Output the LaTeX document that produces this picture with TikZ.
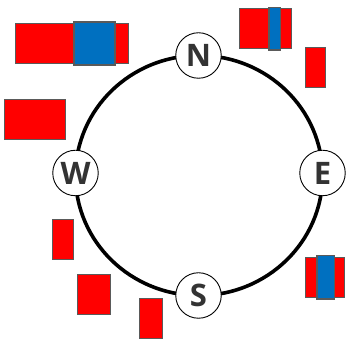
\documentclass[tikz,border=0pt]{standalone}
\usepackage{fontspec}
\setsansfont{Open Sans}
\usepackage{tikz}
\usetikzlibrary{positioning,calc}
\definecolor{barred}{HTML}{FF0000}
\definecolor{barblue}{HTML}{0070C0}
\definecolor{edgegray}{HTML}{5A5A5A}
\definecolor{lettergray}{HTML}{333333}

\begin{document}
\begin{tikzpicture}[x=1pt,y=-1pt,
    point/.style={circle,draw=black,line width=0.9pt,fill=white,minimum size=45.5pt,inner sep=0pt,
        text=lettergray,font=\sffamily\bfseries\fontsize{31}{31}\selectfont},
    redbar/.style={draw=edgegray,line width=1pt,fill=barred},
    bluebar/.style={draw=edgegray,line width=1.2pt,fill=barblue}]
    \useasboundingbox (0,0) rectangle (346,344);
    \coordinate (ctr) at (199,175.5);
    % ring
    \draw[line width=3.6pt] (ctr) ellipse [x radius=123.5, y radius=120];
    % compass points
    \node[point] (N) at (198.5,55.5) {N};
    \node[point] (S) at (198.5,295.5) {S};
    \node[point] (W) at (75.5,173) {W};
    \node[point] (E) at (322.5,173) {E};
    % magnets, top
    \draw[redbar] (15.7,24) rectangle (128.3,63.3);
    \draw[bluebar] (74,22) rectangle (115,65);
    \draw[redbar] (239.3,9) rectangle (291.3,48.3);
    \draw[bluebar] (269,7.3) rectangle (280.3,50);
    \draw[redbar] (305.3,47.7) rectangle (325.7,88);
    % magnets, left and bottom
    \draw[redbar] (4.7,99.3) rectangle (65.7,139.3);
    \draw[redbar] (52.7,219.7) rectangle (73.7,260);
    \draw[redbar] (77.7,275) rectangle (110.7,315);
    \draw[redbar] (139.3,299) rectangle (162,339);
    % magnet, right
    \draw[redbar] (305,257.3) rectangle (344.7,297.3);
    \draw[bluebar] (317,255.3) rectangle (334.7,299);
\end{tikzpicture}
\end{document}
